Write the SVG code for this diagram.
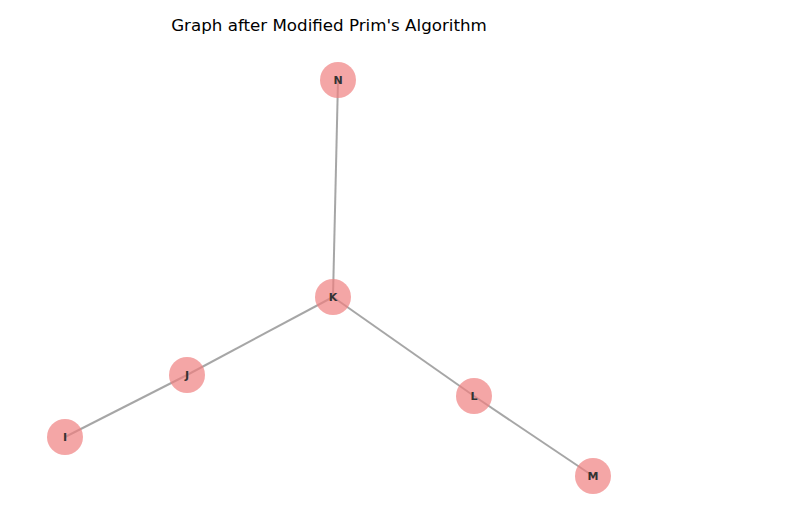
<svg xmlns="http://www.w3.org/2000/svg" width="796" height="523" viewBox="0 0 796 523">
<style>
.edge{stroke:#808080;stroke-opacity:0.7;stroke-width:2;fill:none}
.node circle{fill:#f08080;fill-opacity:0.7;stroke:none}
.node text{font-family:"DejaVu Sans",sans-serif;font-size:11px;font-weight:bold;fill:#333;text-anchor:middle;dominant-baseline:central}
.title{font-family:"DejaVu Sans",sans-serif;font-size:16.7px;fill:#000;text-anchor:middle}
</style>
<rect width="796" height="523" fill="#fff"/>
<text class="title" x="329" y="30.5">Graph after Modified Prim's Algorithm</text>
<g id="edges">
<line class="edge" x1="338" y1="80" x2="333" y2="297"/>
<line class="edge" x1="333" y1="297" x2="187" y2="375"/>
<line class="edge" x1="187" y1="375" x2="65" y2="437"/>
<line class="edge" x1="333" y1="297" x2="474" y2="396"/>
<line class="edge" x1="474" y1="396" x2="593" y2="476"/>
</g>
<g id="node-N" class="node"><circle cx="338" cy="80" r="18"/><text x="338" y="80">N</text></g>
<g id="node-K" class="node"><circle cx="333" cy="297" r="18"/><text x="333" y="297">K</text></g>
<g id="node-J" class="node"><circle cx="187" cy="375" r="18"/><text x="187" y="375">J</text></g>
<g id="node-I" class="node"><circle cx="65" cy="437" r="18"/><text x="65" y="437">I</text></g>
<g id="node-L" class="node"><circle cx="474" cy="396" r="18"/><text x="474" y="396">L</text></g>
<g id="node-M" class="node"><circle cx="593" cy="476" r="18"/><text x="593" y="476">M</text></g>
</svg>
